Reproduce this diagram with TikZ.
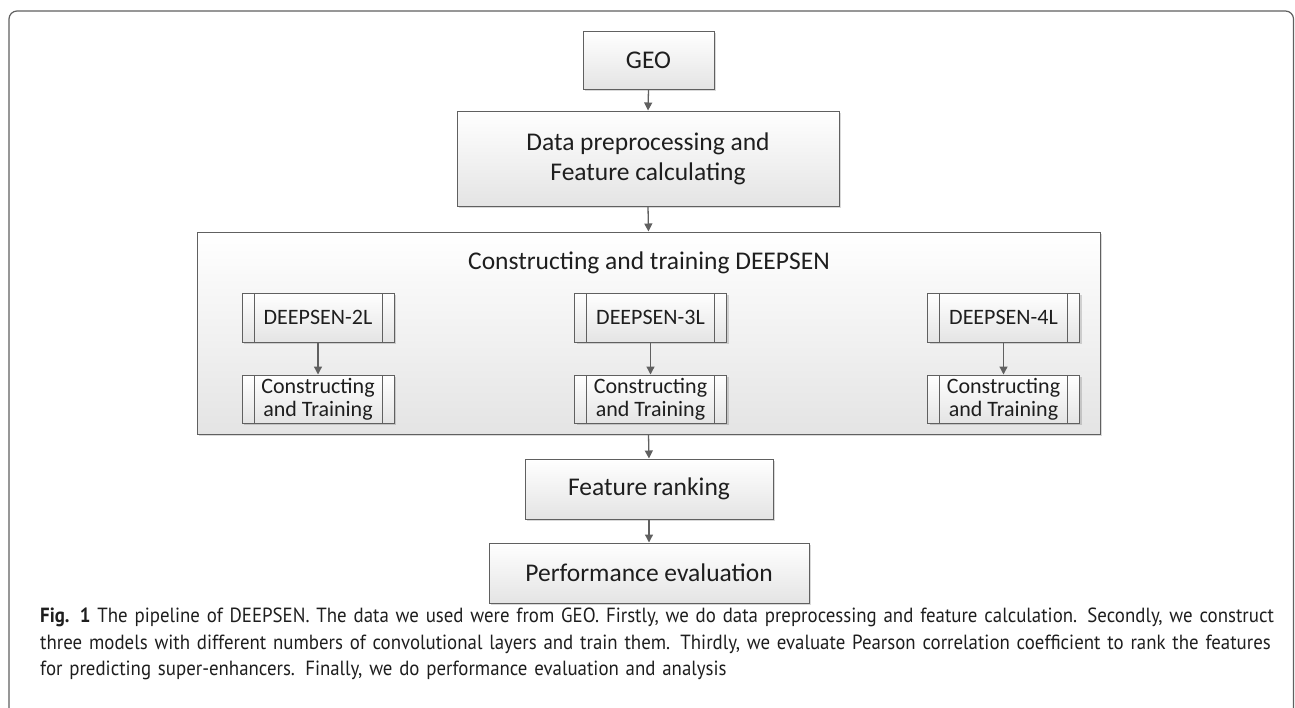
\documentclass[tikz,border=0pt]{standalone}
\usepackage{fontspec}
\setmainfont{Carlito}
\newfontfamily\capfont[FakeStretch=0.92]{PT Sans}
\usetikzlibrary{arrows.meta,shadows}
\definecolor{edge}{HTML}{606060}
\definecolor{fillb}{HTML}{E4E4E4}
\definecolor{ink}{HTML}{1E1E1E}
\tikzset{
  box/.style={draw=edge, line width=1pt, top color=white, bottom color=fillb,
    drop shadow={shadow xshift=2pt, shadow yshift=-2pt, fill=black, opacity=0.15},
    inner sep=0pt, font=\fontsize{25.5}{30}\selectfont, text=ink, align=center},
  proc/.style={box, font=\fontsize{22}{23}\selectfont,
    path picture={\draw[edge, line width=0.8pt]
      ([xshift=12pt]path picture bounding box.north west) -- ([xshift=12pt]path picture bounding box.south west)
      ([xshift=-12pt]path picture bounding box.north east) -- ([xshift=-12pt]path picture bounding box.south east);}},
  arr/.style={draw=edge, line width=1.3pt, -{Triangle[width=8pt,length=8pt]}},
  frame/.style={draw=edge, line width=1.2pt, rounded corners=8pt}
}
\begin{document}
\begin{tikzpicture}[x=1pt,y=-1pt]
\useasboundingbox (0,0) rectangle (1295,707);
\draw[frame] (9,708) -- (9,11) -- (1293.5,11) -- (1293.5,708);

\node[box, minimum width=131pt, minimum height=58pt] (geo) at (648.5,60) {GEO};
\node[box, minimum width=382pt, minimum height=95pt] (data) at (648,158.5) {Data preprocessing and\\Feature calculating};
\node[box, minimum width=903pt, minimum height=202pt] (big) at (648.5,333) {};
\node[font=\fontsize{25.5}{30}\selectfont, text=ink, inner sep=0pt] (title) at (649,263) {Constructing and training DEEPSEN};

\node[proc, minimum width=152pt, minimum height=49pt] (m2) at (318,317.5) {DEEPSEN-2L};
\node[proc, minimum width=152pt, minimum height=48pt] (c2) at (318,399) {Constructing\\and Training};
\node[proc, minimum width=152pt, minimum height=49pt] (m3) at (650.5,317.5) {DEEPSEN-3L};
\node[proc, minimum width=152pt, minimum height=48pt] (c3) at (650.5,399) {Constructing\\and Training};
\node[proc, minimum width=152pt, minimum height=49pt] (m4) at (1003.5,317.5) {DEEPSEN-4L};
\node[proc, minimum width=152pt, minimum height=48pt] (c4) at (1003.5,399) {Constructing\\and Training};

\node[box, minimum width=248pt, minimum height=60pt] (fr) at (649,489) {Feature ranking};
\node[box, minimum width=320pt, minimum height=60pt] (perf) at (649,573) {Performance evaluation};

\draw[arr] (geo.south) -- (data.north);
\draw[arr] (data.south) -- (big.north);
\draw[arr] (m2.south) -- (c2.north);
\draw[arr] (m3.south) -- (c3.north);
\draw[arr] (m4.south) -- (c4.north);
\draw[arr] (big.south) -- (fr.north);
\draw[arr] (fr.south) -- (perf.north);

\node[anchor=north west, inner sep=0pt, text width=1238pt, text=ink,
  font=\capfont\fontsize{20.5}{26.5}\selectfont] (cap) at (40,608)
{\noindent\textbf{Fig. 1} The pipeline of DEEPSEN. The data we used were from GEO. Firstly, we do data preprocessing and feature calculation. Secondly, we construct\linebreak
three models with different numbers of convolutional layers and train them. Thirdly, we evaluate Pearson correlation coefficient to rank the features\linebreak
for predicting super-enhancers. Finally, we do performance evaluation and analysis\par};
\end{tikzpicture}
\end{document}
